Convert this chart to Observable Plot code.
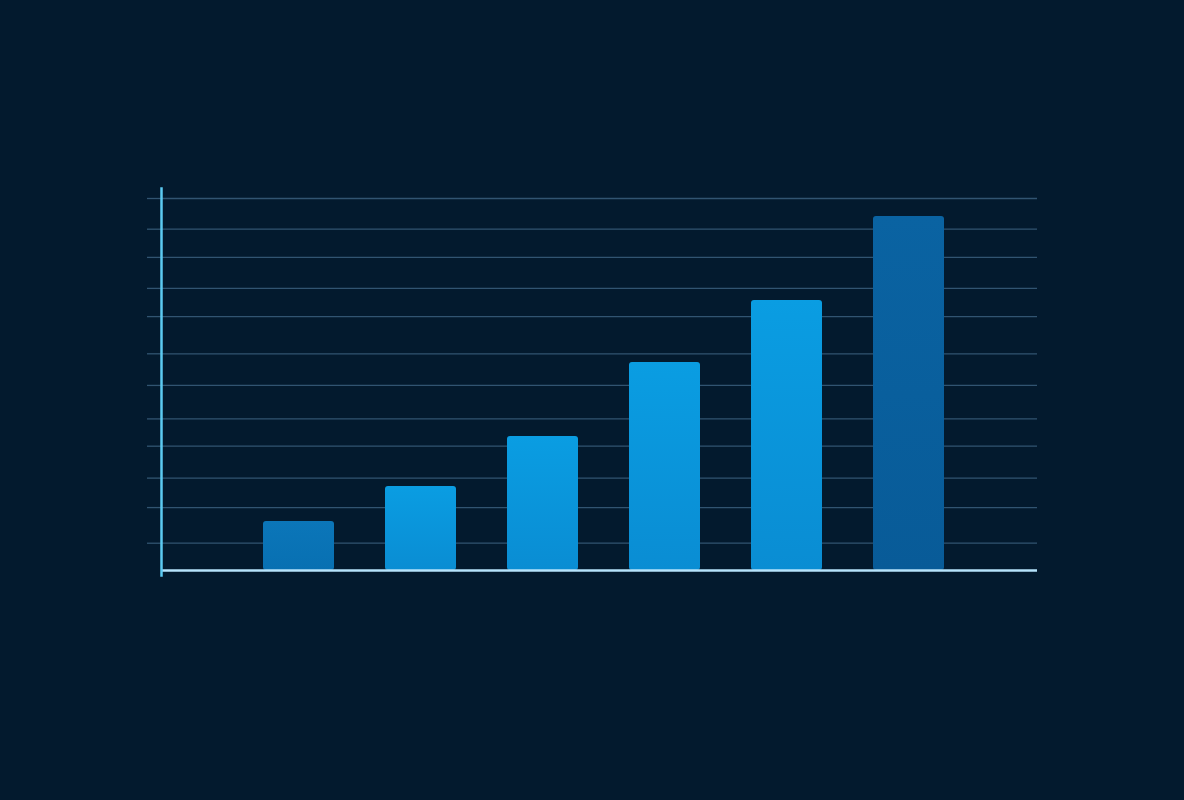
<!DOCTYPE html>
<html>
<head>
<meta charset="utf-8">
<script src="https://cdn.jsdelivr.net/npm/d3@7"></script>
<script src="https://cdn.jsdelivr.net/npm/@observablehq/plot@0.6"></script>
<style>
  html, body { margin: 0; padding: 0; background: #031a2e; }
  #chart svg { display: block; }
</style>
</head>
<body>
<div id="chart"></div>
<script>
const categories = ["A", "B", "C", "D", "E", "F"];
const values = [1.58, 2.71, 4.32, 6.71, 8.71, 11.42];
const fills = ["url(#g1)", "url(#g2)", "url(#g2)", "url(#g2)", "url(#g2)", "url(#g6)"];
// gridline positions (slightly uneven)
const yTicks = [0.88, 2.03, 2.98, 4.01, 4.89, 5.97, 6.99, 8.19, 9.10, 10.10, 11.01, 12];

const data = categories.map((c, i) => ({cat: c, value: values[i], fill: fills[i]}));

const plot = Plot.plot({
  width: 1184,
  height: 800,
  marginLeft: 161,
  marginRight: 147,
  marginTop: 188,
  marginBottom: 225,
  style: {background: "#031a2e"},
  x: {domain: categories, range: [237, 969], paddingInner: 0.42, paddingOuter: 0.21, axis: null},
  y: {domain: [0, 12], range: [570, 198], axis: null},
  marks: [
    Plot.gridY(yTicks, {stroke: "#3a5f7c", strokeOpacity: 0.85, strokeWidth: 1.3}),
    Plot.axisY(yTicks, {tickSize: 14, stroke: "#3a5f7c", strokeOpacity: 0.85, strokeWidth: 1.3, tickFormat: () => "", label: null}),
    Plot.barY(data, {x: "cat", y: "value", fill: "fill", rx: 3}),
    Plot.ruleY([0], {stroke: "#b6e3fb", strokeWidth: 2.5}),
    Plot.frame({anchor: "left", stroke: "#5ccbf3", strokeWidth: 2.5})
  ]
});

const svg = d3.select(plot);
const defs = svg.insert("defs", ":first-child");
function grad(id, top, bottom) {
  const g = defs.append("linearGradient").attr("id", id).attr("x1", 0).attr("y1", 0).attr("x2", 0).attr("y2", 1);
  g.append("stop").attr("offset", "0%").attr("stop-color", top);
  g.append("stop").attr("offset", "100%").attr("stop-color", bottom);
}
grad("g1", "#0b76b9", "#0870b2");
grad("g2", "#0a9de2", "#0a8dd3");
grad("g6", "#0a63a2", "#085b98");

document.getElementById("chart").appendChild(plot);
</script>
</body>
</html>
